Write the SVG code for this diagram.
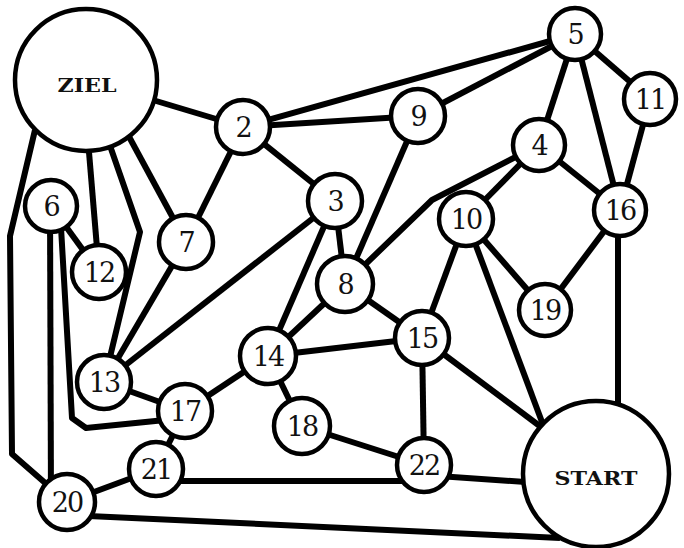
<svg xmlns="http://www.w3.org/2000/svg" width="684" height="548" viewBox="0 0 684 548">
<style>
.e{stroke:#000;stroke-width:6;fill:none;stroke-linejoin:round}
.n circle{fill:#fff;stroke:#000;stroke-width:4.5}
.n text{font-family:"DejaVu Serif","Liberation Serif",serif;font-size:27px;text-anchor:middle;fill:#111;letter-spacing:-2px}
.big text{font-weight:bold;font-size:19px;letter-spacing:0}
</style>
<rect width="684" height="548" fill="#fff"/>
<g id="connectors">
<line class="e" x1="86" y1="80" x2="243" y2="127"/>
<line class="e" x1="243" y1="127" x2="575" y2="34"/>
<line class="e" x1="243" y1="127" x2="418" y2="116"/>
<line class="e" x1="418" y1="116" x2="575" y2="34"/>
<line class="e" x1="243" y1="127" x2="335" y2="201"/>
<line class="e" x1="243" y1="127" x2="186" y2="242"/>
<line class="e" x1="120" y1="120" x2="186" y2="242"/>
<line class="e" x1="88" y1="140" x2="99" y2="272"/>
<polyline class="e" points="108,140 140,232 104,382"/>
<polyline class="e" points="35,130 10,236 12,454 67,502"/>
<line class="e" x1="186" y1="242" x2="104" y2="382"/>
<line class="e" x1="335" y1="201" x2="104" y2="382"/>
<line class="e" x1="51" y1="206" x2="99" y2="272"/>
<line class="e" x1="50" y1="206" x2="51" y2="502"/>
<polyline class="e" points="60,210 72,418 86,428 185,418"/>
<line class="e" x1="104" y1="382" x2="185" y2="411"/>
<line class="e" x1="185" y1="411" x2="268" y2="356"/>
<line class="e" x1="185" y1="411" x2="156" y2="469"/>
<line class="e" x1="156" y1="469" x2="67" y2="502"/>
<line class="e" x1="67" y1="515" x2="560" y2="538"/>
<line class="e" x1="156" y1="481" x2="424" y2="481"/>
<line class="e" x1="424" y1="475" x2="596" y2="487"/>
<line class="e" x1="302" y1="426" x2="424" y2="465"/>
<line class="e" x1="268" y1="356" x2="302" y2="426"/>
<line class="e" x1="268" y1="356" x2="422" y2="338"/>
<line class="e" x1="268" y1="356" x2="345" y2="284"/>
<line class="e" x1="268" y1="356" x2="335" y2="201"/>
<line class="e" x1="335" y1="201" x2="345" y2="284"/>
<line class="e" x1="345" y1="284" x2="422" y2="338"/>
<line class="e" x1="345" y1="284" x2="418" y2="116"/>
<polyline class="e" points="345,284 432,200 539,145"/>
<line class="e" x1="466" y1="219" x2="539" y2="145"/>
<line class="e" x1="539" y1="145" x2="575" y2="34"/>
<line class="e" x1="539" y1="145" x2="620" y2="210"/>
<line class="e" x1="575" y1="34" x2="620" y2="210"/>
<line class="e" x1="575" y1="34" x2="650" y2="99"/>
<line class="e" x1="650" y1="99" x2="620" y2="210"/>
<line class="e" x1="620" y1="210" x2="545" y2="310"/>
<line class="e" x1="466" y1="219" x2="545" y2="310"/>
<line class="e" x1="466" y1="219" x2="422" y2="338"/>
<line class="e" x1="466" y1="219" x2="545" y2="430"/>
<line class="e" x1="422" y1="338" x2="545" y2="430"/>
<line class="e" x1="422" y1="338" x2="424" y2="465"/>
<line class="e" x1="618" y1="210" x2="618" y2="420"/>
</g>
<g id="ZIEL" class="n big"><circle cx="86" cy="80" r="71"/><text x="87" y="92" textLength="59" lengthAdjust="spacingAndGlyphs">ZIEL</text></g>
<g id="START" class="n big"><circle cx="596" cy="474" r="73"/><text x="596" y="485" textLength="83" lengthAdjust="spacingAndGlyphs">START</text></g>
<g id="n2" class="n"><circle cx="243" cy="127" r="27"/><text x="243" y="137">2</text></g>
<g id="n3" class="n"><circle cx="335" cy="201" r="27"/><text x="335" y="211">3</text></g>
<g id="n4" class="n"><circle cx="539" cy="145" r="26"/><text x="539" y="155">4</text></g>
<g id="n5" class="n"><circle cx="575" cy="34" r="26"/><text x="575" y="44">5</text></g>
<g id="n6" class="n"><circle cx="51" cy="206" r="26"/><text x="51" y="216">6</text></g>
<g id="n7" class="n"><circle cx="186" cy="242" r="27"/><text x="186" y="252">7</text></g>
<g id="n8" class="n"><circle cx="345" cy="284" r="28"/><text x="345" y="294">8</text></g>
<g id="n9" class="n"><circle cx="418" cy="116" r="27"/><text x="418" y="126">9</text></g>
<g id="n10" class="n"><circle cx="466" cy="219" r="27"/><text x="466" y="229">10</text></g>
<g id="n11" class="n"><circle cx="650" cy="99" r="26"/><text x="650" y="109">11</text></g>
<g id="n12" class="n"><circle cx="99" cy="272" r="27"/><text x="99" y="282">12</text></g>
<g id="n13" class="n"><circle cx="104" cy="382" r="27"/><text x="104" y="392">13</text></g>
<g id="n14" class="n"><circle cx="268" cy="356" r="28"/><text x="268" y="366">14</text></g>
<g id="n15" class="n"><circle cx="422" cy="338" r="27"/><text x="422" y="348">15</text></g>
<g id="n16" class="n"><circle cx="620" cy="210" r="26"/><text x="620" y="220">16</text></g>
<g id="n17" class="n"><circle cx="185" cy="411" r="27"/><text x="185" y="421">17</text></g>
<g id="n18" class="n"><circle cx="302" cy="426" r="28"/><text x="302" y="436">18</text></g>
<g id="n19" class="n"><circle cx="545" cy="310" r="26"/><text x="545" y="320">19</text></g>
<g id="n20" class="n"><circle cx="67" cy="502" r="28"/><text x="67" y="512">20</text></g>
<g id="n21" class="n"><circle cx="156" cy="469" r="27"/><text x="156" y="479">21</text></g>
<g id="n22" class="n"><circle cx="424" cy="465" r="27"/><text x="424" y="475">22</text></g>
</svg>
